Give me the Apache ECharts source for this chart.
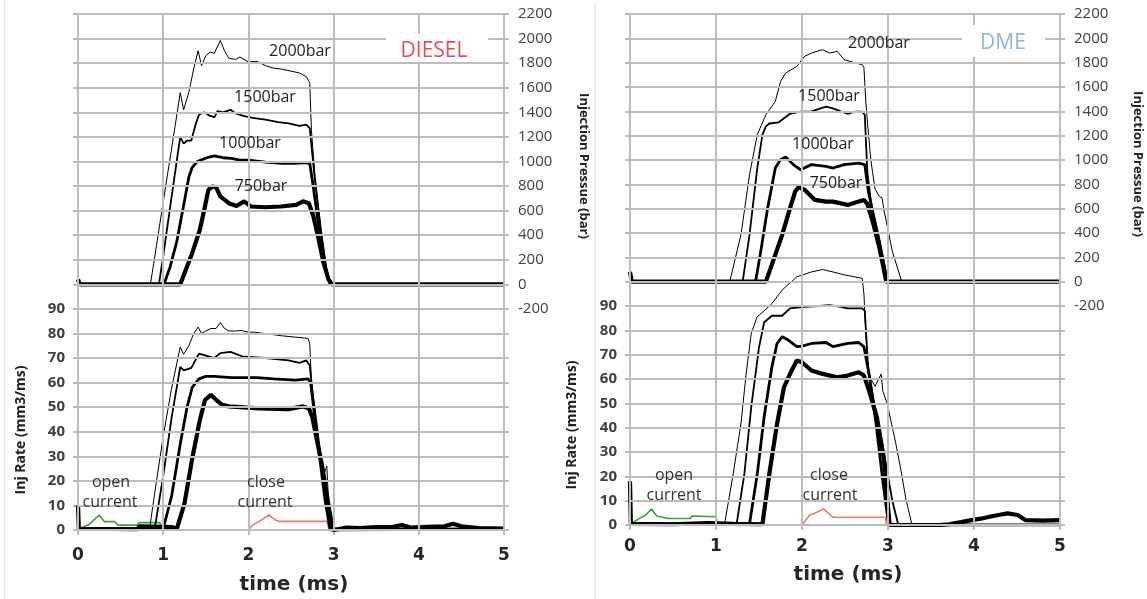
<!DOCTYPE html>
<html>
<head>
<meta charset="utf-8">
<title>Injection pressure and rate - DIESEL vs DME</title>
<script src="https://cdn.jsdelivr.net/npm/echarts@6/dist/echarts.min.js"></script>
<style>
  html, body { margin: 0; padding: 0; background: #fff; }
  #chart { width: 1147px; height: 599px; }
</style>
</head>
<body>
<div id="chart"></div>
<script>
// ---- DIESEL: injection pressure (bar), [time ms, value]
const dieselP2000 = [[0,0],[0.85,0],[0.9,220],[1.0,670],[1.1,1110],[1.2,1560],[1.24,1420],[1.3,1560],[1.36,1760],[1.41,1900],[1.45,1780],[1.5,1860],[1.55,1890],[1.6,1880],[1.67,1985],[1.72,1900],[1.77,1840],[1.85,1830],[1.9,1850],[2.0,1810],[2.1,1815],[2.2,1780],[2.29,1760],[2.4,1750],[2.5,1735],[2.6,1720],[2.68,1690],[2.72,1640],[2.74,1250],[2.78,900],[2.85,450],[2.92,100],[2.97,0],[5,0]];
const dieselP1500 = [[0,0],[0.95,0],[1.0,230],[1.1,720],[1.2,1200],[1.24,1145],[1.28,1170],[1.33,1170],[1.38,1300],[1.42,1380],[1.48,1400],[1.55,1370],[1.6,1360],[1.64,1410],[1.7,1400],[1.79,1420],[1.85,1390],[1.94,1370],[2.05,1355],[2.2,1340],[2.35,1320],[2.47,1310],[2.6,1290],[2.68,1300],[2.72,1270],[2.78,850],[2.85,450],[2.92,100],[2.96,0],[5,0]];
const dieselP1000 = [[0,0],[1.01,0],[1.08,140],[1.16,350],[1.25,680],[1.3,870],[1.34,950],[1.4,1000],[1.51,1030],[1.6,1045],[1.7,1030],[1.8,1025],[1.9,1010],[2.0,1010],[2.2,995],[2.4,985],[2.55,985],[2.65,990],[2.72,985],[2.76,800],[2.84,400],[2.92,80],[2.96,0],[5,0]];
const dieselP750 = [[0,40],[0.02,0],[1.2,0],[1.34,253],[1.43,443],[1.49,633],[1.53,769],[1.58,796],[1.62,790],[1.67,715],[1.77,660],[1.86,637],[1.95,675],[2.03,633],[2.2,627],[2.38,633],[2.56,647],[2.64,675],[2.71,660],[2.76,560],[2.82,380],[2.88,180],[2.94,40],[2.98,0],[5,0]];

// ---- DIESEL: injection rate (mm3/ms)
const dieselR2000 = [[0,0.5],[0.84,0.5],[0.9,15],[1.0,38],[1.1,58],[1.2,74.5],[1.24,71.5],[1.3,75],[1.36,80],[1.41,82.6],[1.45,80],[1.5,81],[1.56,82],[1.62,82],[1.67,84.4],[1.72,82],[1.77,81],[1.85,81],[1.92,81.2],[2.0,80.5],[2.07,80.5],[2.18,80],[2.29,79.5],[2.4,79],[2.55,78.5],[2.7,78],[2.72,76],[2.74,60],[2.8,45],[2.88,22],[2.92,26],[2.94,12],[2.98,1],[3.1,0.5],[5,0.5]];
const dieselR1500 = [[0,0.5],[0.9,0.5],[1.0,22],[1.1,46],[1.2,66.4],[1.24,65],[1.33,66],[1.42,71.8],[1.5,71],[1.6,70],[1.67,72],[1.79,72.5],[1.94,70.5],[2.2,70],[2.47,69],[2.6,68],[2.68,69],[2.72,67],[2.8,40],[2.9,15],[2.96,0],[5,0.5]];
const dieselR1000 = [[0,0.5],[1.0,0.5],[1.1,14],[1.2,35],[1.28,50],[1.34,58],[1.42,61.5],[1.5,62.5],[1.6,62.5],[1.8,62],[2.1,62],[2.3,61.5],[2.55,61],[2.7,61.5],[2.73,60],[2.8,40],[2.9,12],[2.96,0],[5,0.5]];
const dieselR750 = [[0,10],[0.01,0.5],[0.7,0.3],[0.72,1.5],[1.1,1.2],[1.16,0.5],[1.25,10.8],[1.34,29],[1.43,44.7],[1.49,52.9],[1.56,55],[1.62,53],[1.69,51],[1.77,50.3],[2.12,49.5],[2.47,49.2],[2.64,50.3],[2.71,49.5],[2.75,46],[2.86,27],[2.95,8],[2.99,0],[3.05,0.3],[3.15,1],[3.3,0.8],[3.5,1.2],[3.7,1.3],[3.8,2],[3.9,1],[4.1,1.3],[4.3,1.5],[4.4,2.5],[4.5,1.5],[4.7,0.8],[5,0.6]];
const dieselOpen = [[0.02,0.8],[0.12,2],[0.25,6.1],[0.31,3.4],[0.43,3.4],[0.47,2],[0.69,2],[0.72,3],[0.96,3],[1.0,0],[2.95,0]];
const dieselClose = [[1.17,0],[2.0,0],[2.05,2],[2.15,4],[2.24,6.1],[2.32,4],[2.36,3.5],[2.92,3.5],[2.95,0],[3.15,0],[3.16,null],[3.72,0],[3.8,0.8],[3.86,0]];

// ---- DME: injection pressure (bar)
const dmeP2000 = [[0,0],[1.16,0],[1.29,386],[1.39,879],[1.48,1208],[1.58,1372],[1.69,1482],[1.75,1646],[1.81,1715],[1.94,1770],[2.03,1852],[2.11,1879],[2.24,1907],[2.32,1879],[2.41,1893],[2.49,1825],[2.62,1797],[2.7,1784],[2.72,1760],[2.74,1500],[2.76,1320],[2.8,1000],[2.85,760],[2.9,700],[2.93,690],[2.95,600],[3.05,250],[3.16,0],[5,0]];
const dmeP1500 = [[0,0],[1.31,0],[1.39,386],[1.48,934],[1.54,1208],[1.58,1276],[1.62,1300],[1.73,1310],[1.86,1380],[1.98,1397],[2.11,1400],[2.2,1420],[2.28,1438],[2.36,1425],[2.45,1400],[2.53,1380],[2.62,1397],[2.7,1397],[2.73,1370],[2.76,900],[2.8,660],[2.9,330],[3.0,0],[5,0]];
const dmeP1000 = [[0,0],[1.46,0],[1.52,247],[1.6,603],[1.69,934],[1.75,1003],[1.81,1025],[1.9,962],[1.98,920],[2.11,962],[2.28,948],[2.36,934],[2.49,962],[2.66,975],[2.73,962],[2.77,750],[2.82,580],[2.9,330],[2.99,0],[5,0]];
const dmeP750 = [[0,80],[0.02,0],[1.58,0],[1.69,222],[1.77,386],[1.86,603],[1.92,741],[1.96,775],[2.03,755],[2.15,672],[2.28,658],[2.36,658],[2.53,631],[2.66,658],[2.72,672],[2.76,640],[2.82,500],[2.9,280],[2.98,0],[5,0]];

// ---- DME: injection rate (mm3/ms)
const dmeR2000 = [[0,0.5],[1.1,0.5],[1.2,21],[1.29,41.6],[1.35,62],[1.41,78.8],[1.48,85.6],[1.56,88],[1.65,91],[1.77,96.6],[1.94,102],[2.11,104],[2.24,105],[2.36,104],[2.49,102.8],[2.7,101.4],[2.72,95],[2.74,80],[2.77,62],[2.85,57],[2.92,62],[2.94,55],[2.99,50],[3.09,33.6],[3.15,22.6],[3.21,10.3],[3.28,0],[5,0]];
const dmeR1500 = [[0,0.5],[1.24,0.5],[1.33,21],[1.41,48.5],[1.5,73],[1.56,83.3],[1.65,86],[1.77,86],[1.86,89],[2.03,89.6],[2.2,90],[2.32,90.4],[2.45,89.6],[2.53,89],[2.7,89],[2.73,88],[2.77,64],[2.85,48],[2.95,30],[3.05,10],[3.12,0],[5,0]];
const dmeR1000 = [[0,0.5],[1.39,0.5],[1.48,21],[1.56,44.5],[1.65,65],[1.71,74.6],[1.77,77.4],[1.84,76],[1.94,73.3],[2.0,73.5],[2.11,74.6],[2.28,75],[2.36,73.3],[2.53,74.6],[2.66,75],[2.72,73.3],[2.78,62],[2.86,42],[2.94,18],[3.0,2],[3.04,0],[5,0]];
const dmeR750 = [[0,18],[0.01,0.5],[0.5,0.3],[0.9,0.8],[1.2,0.5],[1.54,0.3],[1.62,21],[1.71,41.6],[1.79,56.6],[1.88,63.5],[1.94,67.6],[2.0,66.9],[2.11,63.5],[2.24,62.1],[2.41,60.7],[2.53,61.4],[2.66,62.8],[2.72,61.4],[2.78,55.2],[2.87,44.3],[2.95,27.8],[3.0,7.5],[3.02,0],[3.6,0],[3.71,0.3],[3.85,1.2],[3.97,2],[4.08,2.6],[4.18,3.4],[4.3,4.2],[4.39,4.8],[4.51,4.1],[4.6,2],[4.8,1.8],[5,2]];
const dmeOpen = [[0.02,0.7],[0.1,2.5],[0.18,4],[0.25,6.6],[0.31,3.7],[0.45,2.7],[0.7,2.7],[0.72,3.7],[1.0,3.4],[1.02,0],[3.0,0]];
const dmeClose = [[1.57,0],[2.0,0],[2.09,4.1],[2.13,4.5],[2.25,6.6],[2.36,3.2],[2.97,3.2],[2.98,0],[3.6,0],[3.61,null],[4.15,0],[4.6,0]];

const timeTicks = [0, 1, 2, 3, 4, 5];
const barLabels = ['2000bar', '1500bar', '1000bar', '750bar'];

const GRID = '#bdbdbd';
const GREEN = '#3c9e3c';
const RED = '#ee7a72';
const widths = [1, 1.8, 2.8, 4.2];

function xAxisFor(gridIndex, labelMargin) {
  return {
    type: 'value', gridIndex: gridIndex, min: timeTicks[0], max: timeTicks[timeTicks.length - 1], interval: 1,
    axisLine: { show: true, lineStyle: { color: GRID, width: 2 } },
    axisTick: { show: true, length: 5, lineStyle: { color: GRID, width: 2 } },
    splitLine: { show: true, lineStyle: { color: GRID, width: 2 } },
    axisLabel: { margin: labelMargin, color: '#262626', fontFamily: 'DejaVu Sans', fontWeight: 'bold', fontSize: 17 }
  };
}

function rateAxis(gridIndex) {
  return {
    type: 'value', gridIndex: gridIndex, position: 'left', min: 0, max: 210, interval: 10,
    axisLine: { show: false },
    axisTick: { show: true, length: 5, lineStyle: { color: GRID, width: 2 } },
    splitLine: { show: true, lineStyle: { color: GRID, width: 2 } },
    axisLabel: {
      margin: 13, color: '#404040', fontFamily: 'Open Sans', fontWeight: 'bold', fontSize: 15,
      formatter: v => (v <= 90 ? String(v) : '')
    }
  };
}

function pressAxis(gridIndex) {
  return {
    type: 'value', gridIndex: gridIndex, position: 'right', min: -2000, max: 2200, interval: 200,
    axisLine: { show: false },
    axisTick: { show: true, length: 5, lineStyle: { color: GRID, width: 2 } },
    splitLine: { show: false },
    axisLabel: {
      margin: 14, color: '#404040', fontFamily: 'Open Sans', fontSize: 15,
      formatter: v => (v >= -200 ? String(v) : '')
    }
  };
}

// grid lines through the rate / time scales (drawn under the traces)
function gridLines() {
  const d = [];
  for (let v = 0; v <= 210; v += 10) d.push({ yAxis: v });
  timeTicks.forEach(t => d.push({ xAxis: t }));
  return {
    silent: true, animation: false, symbol: ['none', 'none'], precision: 2,
    label: { show: false }, emphasis: { disabled: true },
    lineStyle: { color: GRID, width: 2, type: 'solid' },
    data: d
  };
}

function line(data, width, color, xi, yi, z) {
  return {
    type: 'line', data: data, xAxisIndex: xi, yAxisIndex: yi,
    showSymbol: false, symbol: 'none', connectNulls: false, z: z,
    lineStyle: { color: color, width: width },
    emphasis: { disabled: true }, silent: true
  };
}

function text(str, x, y, opt) {
  opt = opt || {};
  return {
    type: 'text', x: x, y: y, rotation: opt.rotation || 0, z: 100,
    style: {
      text: str, fill: opt.color || '#222', align: 'center', verticalAlign: 'middle',
      font: (opt.weight || 'normal') + ' ' + (opt.size || 16) + 'px ' + (opt.family || '"Open Sans"')
    }
  };
}

const dieselOpenSeries = line(dieselOpen, 1.6, GREEN, 0, 0, 2);
dieselOpenSeries.markLine = gridLines();
const dmeOpenSeries = line(dmeOpen, 1.6, GREEN, 1, 2, 2);
dmeOpenSeries.markLine = gridLines();

const series = [
  // DIESEL, left panel
  dieselOpenSeries,
  line(dieselClose, 1.6, RED, 0, 0, 3),
  line(dieselR2000, widths[0], '#000', 0, 0, 4),
  line(dieselR1500, widths[1], '#000', 0, 0, 4),
  line(dieselR1000, widths[2], '#000', 0, 0, 4),
  line(dieselR750, widths[3], '#000', 0, 0, 4),
  line(dieselP2000, widths[0], '#000', 0, 1, 4),
  line(dieselP1500, widths[1], '#000', 0, 1, 4),
  line(dieselP1000, widths[2], '#000', 0, 1, 4),
  line(dieselP750, widths[3], '#000', 0, 1, 4),
  // DME, right panel
  dmeOpenSeries,
  line(dmeClose, 1.6, RED, 1, 2, 3),
  line(dmeR2000, widths[0], '#000', 1, 2, 4),
  line(dmeR1500, widths[1], '#000', 1, 2, 4),
  line(dmeR1000, widths[2], '#000', 1, 2, 4),
  line(dmeR750, widths[3], '#000', 1, 2, 4),
  line(dmeP2000, widths[0], '#000', 1, 3, 4),
  line(dmeP1500, widths[1], '#000', 1, 3, 4),
  line(dmeP1000, widths[2], '#000', 1, 3, 4),
  line(dmeP750, widths[3], '#000', 1, 3, 4)
];

const graphic = [
  // panel divider
  { type: 'line', shape: { x1: 595, y1: 4, x2: 595, y2: 599 }, style: { stroke: '#d6d6d6', lineWidth: 1 }, z: 90 },
  { type: 'line', shape: { x1: 4.5, y1: 0, x2: 4.5, y2: 599 }, style: { stroke: '#e6e6e6', lineWidth: 1 }, z: 90 },
  // fuel titles on white boxes
  { type: 'rect', shape: { x: 386, y: 34, width: 102, height: 28 }, style: { fill: '#fff' }, z: 95 },
  text('DIESEL', 434, 51, { color: '#e0505a', size: 21 }),
  { type: 'rect', shape: { x: 962, y: 25, width: 83, height: 32 }, style: { fill: '#fff' }, z: 95 },
  text('DME', 1003, 43, { color: '#8ab6e4', size: 21 }),
  // rail pressure labels
  text(barLabels[0], 300, 51), text(barLabels[1], 265, 97), text(barLabels[2], 250, 143), text(barLabels[3], 261, 186),
  text(barLabels[0], 879, 43), text(barLabels[1], 829, 96), text(barLabels[2], 823, 144), text(barLabels[3], 836, 183),
  // current labels
  text('open', 111, 482, { color: '#333' }), text('current', 110, 502, { color: '#333' }),
  text('close', 266, 482, { color: '#333' }), text('current', 265, 502, { color: '#333' }),
  text('open', 674, 475, { color: '#333' }), text('current', 674, 495, { color: '#333' }),
  text('close', 829, 475, { color: '#333' }), text('current', 830, 495, { color: '#333' }),
  // axis names
  text('Inj Rate (mm3/ms)', 21, 430, { rotation: Math.PI / 2, weight: 'bold', size: 14 }),
  text('Injection Pressue (bar)', 584, 166, { rotation: -Math.PI / 2, weight: 'bold', size: 13 }),
  text('Inj Rate (mm3/ms)', 572, 425, { rotation: Math.PI / 2, weight: 'bold', size: 14 }),
  text('Injection Pressue (bar)', 1138, 164, { rotation: -Math.PI / 2, weight: 'bold', size: 13 }),
  text('time (ms)', 294, 585, { weight: 'bold', size: 20, family: '"DejaVu Sans"', color: '#262626' }),
  text('time (ms)', 848, 575, { weight: 'bold', size: 20, family: '"DejaVu Sans"', color: '#262626' })
];

const chart = echarts.init(document.getElementById('chart'));
chart.setOption({
  animation: false,
  backgroundColor: '#fff',
  grid: [
    { left: 78, right: 1147 - 504, top: 14, bottom: 599 - 530 },
    { left: 630, right: 1147 - 1060, top: 14, bottom: 599 - 525 }
  ],
  xAxis: [xAxisFor(0, 17), xAxisFor(1, 13)],
  yAxis: [rateAxis(0), pressAxis(0), rateAxis(1), pressAxis(1)],
  series: series,
  graphic: graphic
});
</script>
</body>
</html>
